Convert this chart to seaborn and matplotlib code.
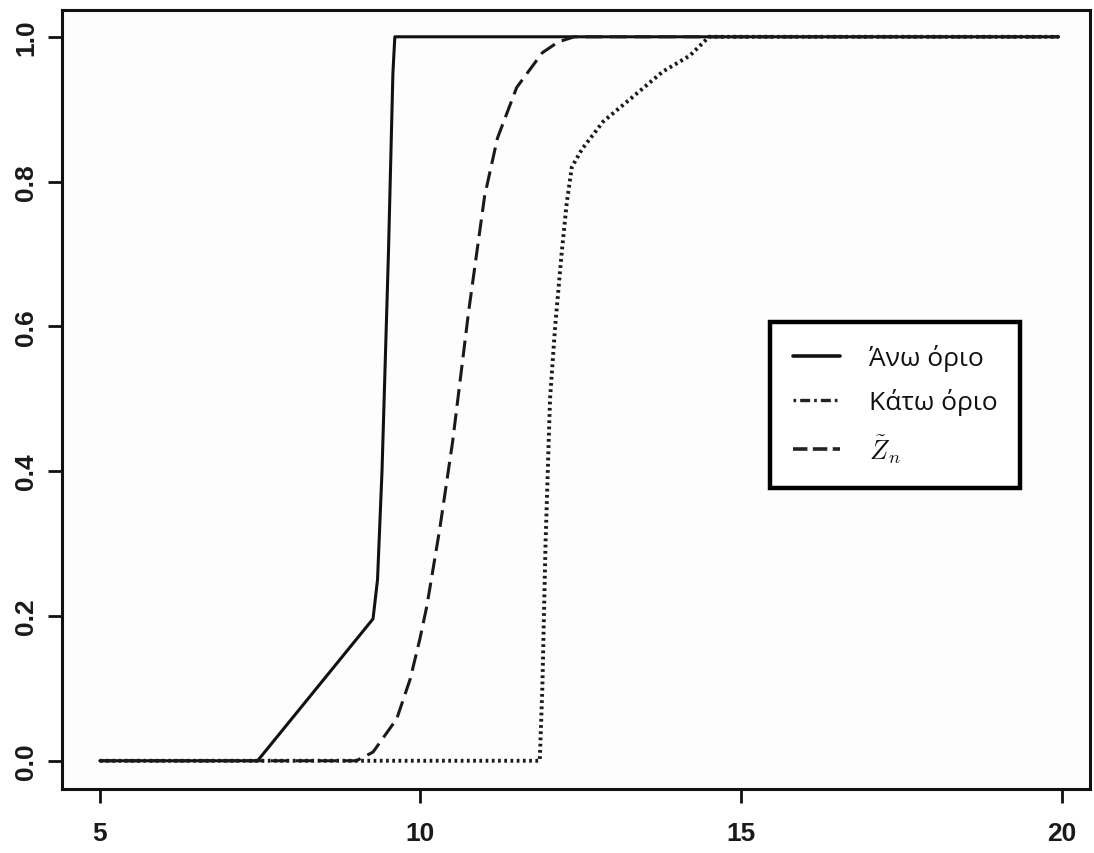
import matplotlib
matplotlib.use("Agg")
import matplotlib.pyplot as plt
from matplotlib.lines import Line2D
import seaborn as sns
import pandas as pd

# ---- data ----
upper_x = [5.0, 7.46, 9.26, 9.33, 9.40, 9.50, 9.57, 9.60, 19.95]
upper_y = [0.0, 0.0, 0.196, 0.25, 0.40, 0.70, 0.95, 1.0, 1.0]

lower_x = [5.0, 11.86, 11.90, 11.95, 12.02, 12.10, 12.20, 12.28, 12.36, 12.52,
           12.85, 13.27, 13.78, 14.20, 14.50, 19.95]
lower_y = [0.0, 0.0, 0.10, 0.30, 0.50, 0.60, 0.70, 0.77, 0.82, 0.845,
           0.883, 0.914, 0.952, 0.974, 1.0, 1.0]

z_x = [5.0, 9.0, 9.26, 9.63, 9.84, 9.99, 10.10, 10.30, 10.50, 10.75,
       11.00, 11.20, 11.50, 11.90, 12.15, 12.40, 19.95]
z_y = [0.0, 0.0, 0.012, 0.058, 0.113, 0.168, 0.214, 0.32, 0.44, 0.62,
       0.78, 0.86, 0.93, 0.978, 0.993, 1.0, 1.0]

x_ticks = [5, 10, 15, 20]
y_ticks = [0.0, 0.2, 0.4, 0.6, 0.8, 1.0]
y_ticklabels = ["0.0", "0.2", "0.4", "0.6", "0.8", "1.0"]
legend_labels = ["Άνω όριο", "Κάτω όριο", r"$\tilde{Z}_n$"]

# ---- plotting ----
sns.set_theme(style="white")
plt.rcParams["font.family"] = ["Liberation Sans Narrow", "Liberation Sans", "DejaVu Sans"]
plt.rcParams["mathtext.fontset"] = "cm"

fig = plt.figure(figsize=(10.94, 8.54), dpi=100)
fig.patch.set_facecolor("white")
ax = fig.add_axes([62 / 1094, 1 - 790 / 854, 1028 / 1094, 779 / 854])
ax.set_facecolor("#fdfdfd")

lw = 2.2
df_u = pd.DataFrame({"x": upper_x, "y": upper_y})
df_l = pd.DataFrame({"x": lower_x, "y": lower_y})
df_z = pd.DataFrame({"x": z_x, "y": z_y})

sns.lineplot(data=df_u, x="x", y="y", ax=ax, color="#111111", lw=lw,
             estimator=None, sort=False)
sns.lineplot(data=df_l, x="x", y="y", ax=ax, color="#1a1a1a", lw=2.8,
             estimator=None, sort=False, linestyle=(0, (0.7, 0.9)))
sns.lineplot(data=df_z, x="x", y="y", ax=ax, color="#1a1a1a", lw=lw,
             estimator=None, sort=False, linestyle=(0, (5.5, 2.5)))

ax.set_xlim(4.41, 20.44)
ax.set_ylim(-0.039, 1.037)
ax.set_xticks(x_ticks)
ax.set_xticklabels([str(t) for t in x_ticks], fontweight="bold")
ax.set_yticks(y_ticks)
ax.set_yticklabels(y_ticklabels, rotation=90, va="center", fontweight="bold")
ax.set_xlabel("")
ax.set_ylabel("")
ax.tick_params(axis="both", which="major", direction="out", length=10,
               width=2.0, color="#111111", labelsize=19, labelcolor="#1a1a1a",
               bottom=True, left=True)
ax.tick_params(axis="x", pad=13)
ax.tick_params(axis="y", pad=7)
for s in ax.spines.values():
    s.set_visible(True)
    s.set_color("#111111")
    s.set_linewidth(2.2)

handles = [
    Line2D([], [], color="#111111", lw=2.6),
    Line2D([], [], color="#222222", lw=2.4, linestyle=(0, (0.8, 1.2, 3, 1.2))),
    Line2D([], [], color="#222222", lw=2.6, linestyle=(0, (4, 1.5))),
]
leg = ax.legend(handles, legend_labels, loc="upper left",
                bbox_to_anchor=(0.689, 0.600), frameon=True, fancybox=False,
                framealpha=1, edgecolor="black", handlelength=1.8,
                handletextpad=1.1, borderpad=0.85, labelspacing=0.65,
                borderaxespad=0, prop={"family": ["Open Sans", "DejaVu Sans"], "size": 19})
leg.get_frame().set_linewidth(3.2)
for t in leg.get_texts():
    t.set_color("#111111")

fig.savefig("out.png", dpi=100)
